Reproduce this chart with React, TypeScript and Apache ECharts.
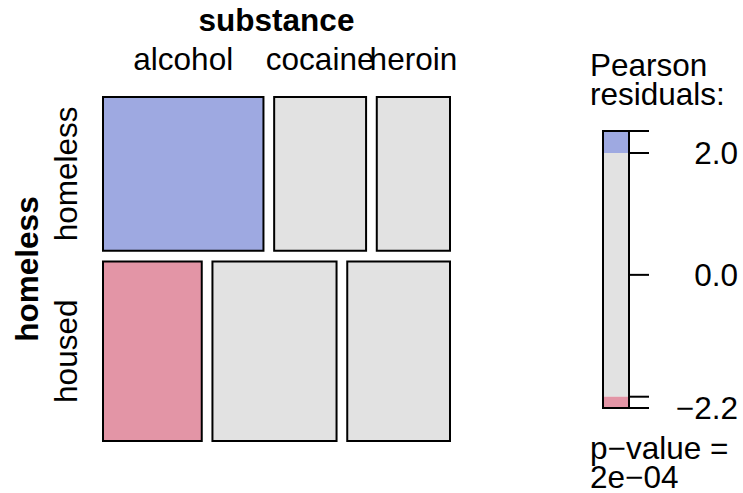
import { useEffect, useRef } from "react";
import * as echarts from "echarts";

// ---- data ----
const substances = ["alcohol", "cocaine", "heroin"];
const homelessLevels = ["homeless", "housed"];
const counts = [
  [103, 59, 47],
  [74, 93, 77],
];
const rowVarName = "homeless";
const colVarName = "substance";
const legendTitle = ["Pearson", "residuals:"];
const pValueLines = ["p\u2212value =", "2e\u221204"];
const legendTickValues = [2, 0, -2];
const legendLabelValues = [2, 0];

// ---- styles ----
const FONT = "Liberation Sans, Arial, Helvetica, sans-serif";
const FS = 31.5;
const COL_POS = "#9EA9E1";
const COL_NEG = "#E395A6";
const COL_NEU = "#E2E2E2";
const palette = [COL_NEU, COL_POS, COL_NEG];

const GRID = { left: 103, top: 97, width: 347, height: 344 };
const GAP = 10.7;
const LEG = { left: 603, top: 131, width: 26, height: 277 };

function fmt(v: number) {
  return v.toFixed(1).replace("-", "\u2212");
}

export default function App() {
  const ref = useRef<HTMLDivElement>(null);
  useEffect(() => {
    const chart = echarts.init(ref.current!, null, { renderer: "svg" });

    const N = counts.flat().reduce((a, b) => a + b, 0);
    const rowTot = counts.map((r) => r.reduce((a, b) => a + b, 0));
    const colTot = substances.map((_, j) => counts.reduce((a, r) => a + r[j], 0));
    const resid = counts.map((r, i) =>
      r.map((o, j) => {
        const e = (rowTot[i] * colTot[j]) / N;
        return (o - e) / Math.sqrt(e);
      })
    );
    const all = resid.flat();
    const rmin = Math.min(...all);
    const rmax = Math.max(...all);

    const gx = GAP / GRID.width;
    const gy = GAP / GRID.height;
    const nCols = substances.length;
    const nRows = homelessLevels.length;

    const cells: number[][] = [];
    const rowBounds: number[][] = [];
    const topCellCenters: number[] = [];
    let yAcc = 0;
    counts.forEach((r, i) => {
      const y0 = yAcc * (1 - (nRows - 1) * gy) + i * gy;
      const y1 = y0 + (rowTot[i] / N) * (1 - (nRows - 1) * gy);
      rowBounds.push([y0, y1]);
      let xAcc = 0;
      r.forEach((o, j) => {
        const x0 = (xAcc / rowTot[i]) * (1 - (nCols - 1) * gx) + j * gx;
        const x1 = x0 + (o / rowTot[i]) * (1 - (nCols - 1) * gx);
        const res = resid[i][j];
        const ci = res > 2 ? 1 : res < -2 ? 2 : 0;
        cells.push([x0, x1, y0, y1, ci]);
        if (i === 0) topCellCenters.push((x0 + x1) / 2);
        xAcc += o;
      });
      yAcc += rowTot[i] / N;
    });

    // labels: [x, y, kind]  kind 0 col label, 1 row label, 2 col title, 3 row title
    const labelTexts: string[] = [];
    const labelData: number[][] = [];
    substances.forEach((s, j) => {
      labelTexts.push(s);
      labelData.push([topCellCenters[j], 0, 0]);
    });
    homelessLevels.forEach((h, i) => {
      labelTexts.push(h);
      labelData.push([0, (rowBounds[i][0] + rowBounds[i][1]) / 2, 1]);
    });
    labelTexts.push(colVarName);
    labelData.push([0.5, 0, 2]);
    labelTexts.push(rowVarName);
    labelData.push([0, 0.5, 3]);

    const bands: number[][] = [];
    if (rmax > 2) bands.push([2, rmax, 1]);
    bands.push([Math.max(-2, rmin), Math.min(2, rmax), 0]);
    if (rmin < -2) bands.push([rmin, -2, 2]);

    const ticks = [rmax, ...legendTickValues.filter((v) => v > rmin && v < rmax), rmin].map((v) => [v]);
    const tickLabels = [...legendLabelValues, rmin].map((v) => [v]);
    const tickLabelVals = [...legendLabelValues.map(fmt), fmt(rmin)];

    const textStyle = (text: string, bold: boolean, align: string, lh?: number) => ({
      text,
      fontFamily: FONT,
      fontSize: FS,
      fontWeight: bold ? "bold" : "normal",
      fill: "#000",
      textAlign: align,
      textVerticalAlign: "middle",
      ...(lh ? { lineHeight: lh } : {}),
    });

    const option: any = {
      animation: false,
      backgroundColor: "#fff",
      grid: [{ ...GRID }, { ...LEG }],
      xAxis: [
        { type: "value", gridIndex: 0, min: 0, max: 1, show: false },
        { type: "value", gridIndex: 1, min: 0, max: 1, show: false },
      ],
      yAxis: [
        { type: "value", gridIndex: 0, min: 0, max: 1, inverse: true, show: false },
        { type: "value", gridIndex: 1, min: rmin, max: rmax, show: false },
      ],
      series: [
        {
          type: "custom",
          xAxisIndex: 0,
          yAxisIndex: 0,
          silent: true,
          data: cells,
          renderItem: (_p: any, api: any) => {
            const a = api.coord([api.value(0), api.value(2)]);
            const b = api.coord([api.value(1), api.value(3)]);
            return {
              type: "rect",
              shape: { x: a[0], y: a[1], width: b[0] - a[0], height: b[1] - a[1] },
              style: { fill: palette[api.value(4)], stroke: "#000", lineWidth: 2 },
            };
          },
        },
        {
          type: "custom",
          xAxisIndex: 0,
          yAxisIndex: 0,
          silent: true,
          data: labelData,
          renderItem: (p: any, api: any) => {
            const kind = api.value(2);
            const c = api.coord([api.value(0), api.value(1)]);
            const text = labelTexts[p.dataIndex];
            if (kind === 0 || kind === 2) {
              const off = kind === 0 ? 38 : 77;
              return {
                type: "text",
                x: c[0],
                y: GRID.top - off,
                style: textStyle(text, kind === 2, "center"),
              };
            }
            const off = kind === 1 ? 37 : 76;
            return {
              type: "text",
              x: GRID.left - off,
              y: c[1],
              rotation: Math.PI / 2,
              style: textStyle(text, kind === 3, "center"),
            };
          },
        },
        {
          type: "custom",
          xAxisIndex: 1,
          yAxisIndex: 1,
          silent: true,
          data: bands,
          renderItem: (_p: any, api: any) => {
            const a = api.coord([0, api.value(1)]);
            const b = api.coord([1, api.value(0)]);
            return {
              type: "rect",
              shape: { x: a[0], y: a[1], width: b[0] - a[0], height: b[1] - a[1] },
              style: { fill: palette[api.value(2)], stroke: null },
            };
          },
        },
        {
          type: "custom",
          xAxisIndex: 1,
          yAxisIndex: 1,
          silent: true,
          data: [[rmin, rmax]],
          renderItem: (_p: any, api: any) => {
            const a = api.coord([0, api.value(1)]);
            const b = api.coord([1, api.value(0)]);
            return {
              type: "rect",
              shape: { x: a[0], y: a[1], width: b[0] - a[0], height: b[1] - a[1] },
              style: { fill: "none", stroke: "#000", lineWidth: 2 },
            };
          },
        },
        {
          type: "custom",
          xAxisIndex: 1,
          yAxisIndex: 1,
          silent: true,
          data: ticks,
          renderItem: (_p: any, api: any) => {
            const a = api.coord([1, api.value(0)]);
            return {
              type: "line",
              shape: { x1: a[0], y1: a[1], x2: a[0] + 20, y2: a[1] },
              style: { stroke: "#000", lineWidth: 2 },
            };
          },
        },
        {
          type: "custom",
          xAxisIndex: 1,
          yAxisIndex: 1,
          silent: true,
          data: tickLabels,
          renderItem: (p: any, api: any) => {
            const a = api.coord([1, api.value(0)]);
            return {
              type: "text",
              x: 738,
              y: a[1],
              style: textStyle(tickLabelVals[p.dataIndex], false, "right"),
            };
          },
        },
      ],
      graphic: [
        { type: "text", x: 590, y: 65, style: textStyle(legendTitle[0], false, "left", 28) },
        { type: "text", x: 590, y: 94, style: textStyle(legendTitle[1], false, "left", 28) },
        { type: "text", x: 590, y: 448, style: textStyle(pValueLines[0], false, "left", 28) },
        { type: "text", x: 590, y: 477, style: textStyle(pValueLines[1], false, "left", 28) },
      ],
    };
    chart.setOption(option);
    return () => chart.dispose();
  }, []);
  return (
    <div
      ref={ref}
      style={{ position: "fixed", left: 0, top: 0, width: 743, height: 493, background: "#fff" }}
    />
  );
}
